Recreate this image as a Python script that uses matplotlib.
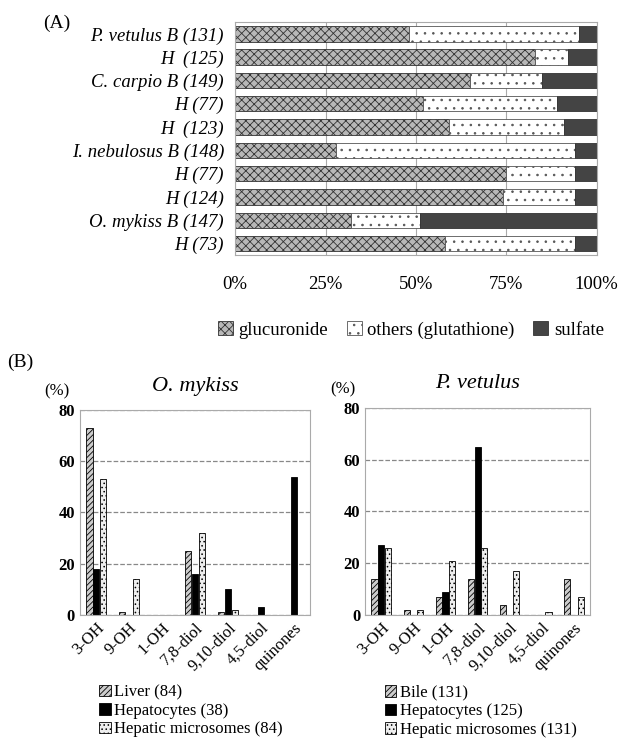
import matplotlib
matplotlib.use("Agg")
import matplotlib.pyplot as plt
import numpy as np

plt.rcParams['font.family'] = ['Liberation Serif', 'DejaVu Serif']
plt.rcParams['hatch.linewidth'] = 0.6

# panel A data (top to bottom)
rows = ["P. vetulus B (131)", "H  (125)", "C. carpio B (149)", "H (77)", "H  (123)",
        "I. nebulosus B (148)", "H (77)", "H (124)", "O. mykiss B (147)", "H (73)"]
glucuronide = [48, 83, 65, 52, 59, 28, 75, 74, 32, 58]
others = [47, 9, 20, 37, 32, 66, 19, 20, 19, 36]
sulfate = [5, 8, 15, 11, 9, 6, 6, 6, 49, 6]

# panel B data
metab = ["3-OH", "9-OH", "1-OH", "7,8-diol", "9,10-diol", "4,5-diol", "quinones"]
om_liver = [73, 1, 0, 25, 1, 0, 0]
om_hep = [18, 0, 0, 16, 10, 3, 54]
om_mic = [53, 14, 0, 32, 2, 0, 0]
pv_bile = [14, 2, 7, 14, 4, 0, 14]
pv_hep = [27, 0, 9, 65, 0, 0, 0]
pv_mic = [26, 2, 21, 26, 17, 1, 7]

fig = plt.figure(figsize=(6.19, 7.40), dpi=100)

# ---- (A)
axA = fig.add_axes([0.380, 0.655, 0.584, 0.315])
y = np.arange(len(rows))
g = np.array(glucuronide)
o = np.array(others)
s = np.array(sulfate)
axA.barh(y, g, height=0.66, color='#b8b8b8', edgecolor='#333333', hatch='xxxx', lw=0.6, label='glucuronide')
axA.barh(y, o, left=g, height=0.66, color='white', edgecolor='#555555', hatch='..', lw=0.6, label='others (glutathione)')
axA.barh(y, s, left=g + o, height=0.66, color='#444444', edgecolor='#333333', lw=0.6, label='sulfate')
axA.set_xlim(0, 100)
axA.set_ylim(len(rows) - 0.5, -0.5)
axA.set_yticks(y)
axA.set_yticklabels(rows, fontsize=13.5, style='italic')
axA.set_xticks([0, 25, 50, 75, 100])
axA.set_xticklabels(["0%", "25%", "50%", "75%", "100%"], fontsize=13.5)
axA.tick_params(axis='x', length=0, pad=15)
axA.tick_params(axis='y', length=0, pad=8)
axA.xaxis.grid(True, color='#aaaaaa', lw=0.8)
axA.set_axisbelow(True)
for sp in axA.spines.values():
    sp.set_color('#aaaaaa')
axA.legend(loc='upper center', bbox_to_anchor=(0.486, -0.21), ncol=3, frameon=False,
           fontsize=13.5, handlelength=0.8, handleheight=0.8, handletextpad=0.3, columnspacing=1.0)
fig.text(0.07, 0.969, "(A)", fontsize=14, va='center')

# ---- (B)
fig.text(0.012, 0.511, "(B)", fontsize=14, va='center')


def metab_panel(ax, a, b, c, labels, title):
    x = np.arange(len(metab))
    w = 0.19
    ax.bar(x - 0.21, a, w, color='#cccccc', edgecolor='black', hatch='//////', lw=0.6, label=labels[0])
    ax.bar(x, b, w, color='black', edgecolor='black', lw=0.6, label=labels[1])
    ax.bar(x + 0.21, c, w, color='#eeeeee', edgecolor='black', hatch='....', lw=0.6, label=labels[2])
    ax.set_xlim(-0.5, len(metab) - 0.5)
    ax.set_ylim(0, 80)
    ax.set_yticks([0, 20, 40, 60, 80])
    ax.set_yticklabels(["0", "20", "40", "60", "80"], fontsize=12, fontweight='bold')
    ax.set_xticks(x)
    ax.set_xticklabels(metab, rotation=45, ha='right', rotation_mode='anchor', fontsize=12)
    ax.tick_params(length=0)
    ax.yaxis.grid(True, ls='--', color='#888888', lw=0.9)
    ax.set_axisbelow(True)
    for sp in ax.spines.values():
        sp.set_color('#aaaaaa')
    ax.set_title(title, fontsize=16, style='italic', pad=14)
    ax.text(-0.1, 1.07, "(%)", transform=ax.transAxes, fontsize=12, ha='center')
    ax.legend(loc='upper left', bbox_to_anchor=(0.02, -0.265), frameon=False, fontsize=12,
              handlelength=0.7, handleheight=0.7, handletextpad=0.2, labelspacing=0.15)


axL = fig.add_axes([0.129, 0.169, 0.372, 0.277])
metab_panel(axL, om_liver, om_hep, om_mic,
            ["Liver (84)", "Hepatocytes (38)", "Hepatic microsomes (84)"], "O. mykiss")
axR = fig.add_axes([0.590, 0.169, 0.363, 0.280])
metab_panel(axR, pv_bile, pv_hep, pv_mic,
            ["Bile (131)", "Hepatocytes (125)", "Hepatic microsomes (131)"], "P. vetulus")

fig.savefig("out.png", dpi=100)
